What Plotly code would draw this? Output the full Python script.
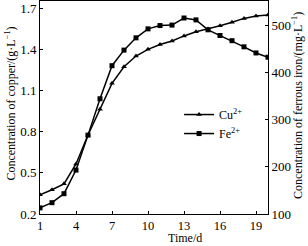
import plotly.graph_objects as go

days = list(range(1, 21))
cu = [0.34, 0.377, 0.42, 0.565, 0.777, 0.964, 1.154, 1.275, 1.353, 1.402,
      1.437, 1.463, 1.50, 1.53, 1.55, 1.574, 1.60, 1.628, 1.645, 1.652]
fe = [113, 124, 143, 193, 267, 344, 414, 447, 473, 492,
      499, 500, 515, 511, 490, 478, 467, 454, 441, 432]
x_ticks = [1, 4, 7, 10, 13, 16, 19]
cu_ticks = [0.2, 0.5, 0.8, 1.1, 1.4, 1.7]
fe_ticks = [100, 200, 300, 400, 500]

FONT = "Liberation Serif"
fig = go.Figure()
fig.add_trace(go.Scatter(x=days, y=cu, mode="lines+markers", name="Cu<sup>2+</sup>",
                         line=dict(color="black", width=1.5),
                         marker=dict(symbol="triangle-up", size=5, color="black")))
fig.add_trace(go.Scatter(x=days, y=fe, mode="lines+markers", name="Fe<sup>2+</sup>",
                         yaxis="y2",
                         line=dict(color="black", width=1.5),
                         marker=dict(symbol="square", size=5, color="black")))

axis_common = dict(showgrid=False, zeroline=False, showline=True, linecolor="black",
                   linewidth=1, ticks="inside", ticklen=3, tickcolor="black",
                   tickfont=dict(family=FONT, size=13, color="black"))
x_common = dict(axis_common)
x_common["tickfont"] = dict(family=FONT, size=12.5, color="black")
fig.update_layout(
    width=308, height=246,
    margin=dict(l=40, r=40, t=1, b=32),
    paper_bgcolor="white", plot_bgcolor="white",
    font=dict(family=FONT, size=13, color="black"),
    xaxis=dict(range=[1, 20], tickvals=x_ticks, mirror=True, **x_common),
    yaxis=dict(range=[0.2, 1.755], tickvals=cu_ticks, **axis_common),
    yaxis2=dict(range=[100, 551], tickvals=fe_ticks, overlaying="y", side="right",
                **axis_common),
    legend=dict(x=0.61, y=0.535, xanchor="left", yanchor="top", bgcolor="rgba(0,0,0,0)",
                font=dict(family=FONT, size=12), itemwidth=30, tracegroupgap=0),
    showlegend=True,
)
fig.add_annotation(text="Time/d", xref="paper", yref="paper", x=0.638, y=-0.152,
                   xanchor="center", yanchor="bottom", showarrow=False, borderpad=0,
                   font=dict(family=FONT, size=12))
fig.add_annotation(text="Concentration of copper/(g·L<sup>−1</sup>)", xref="paper", yref="paper",
                   x=-0.13, y=0.52, textangle=-90, xanchor="center", yanchor="middle",
                   showarrow=False, font=dict(family=FONT, size=12))
fig.add_annotation(text="Concentration of ferrous iron/(mg·L<sup>−1</sup>)", xref="paper", yref="paper",
                   x=1.13, y=0.51, textangle=-90, xanchor="center", yanchor="middle",
                   showarrow=False, font=dict(family=FONT, size=12))
fig.write_html("out.html")
